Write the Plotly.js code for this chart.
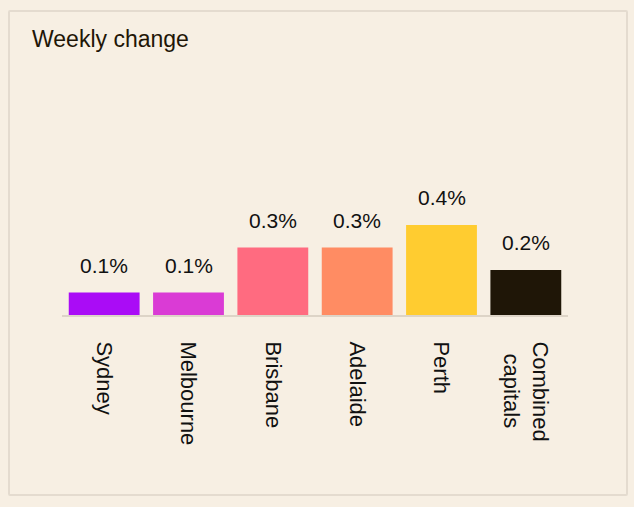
<!DOCTYPE html>
<html>
<head>
<meta charset="utf-8">
<script src="https://cdn.plot.ly/plotly-3.0.1.min.js"></script>
<style>
  html, body { margin: 0; padding: 0; background: #f7efe3; }
  #wrap { position: relative; width: 634px; height: 507px; }
  #chart { position: absolute; left: 0; top: 0; width: 634px; height: 507px; }
  #frame { position: absolute; left: 8px; top: 10px; width: 616px; height: 482px;
           border: 2px solid #e4dbcf; border-radius: 2px; pointer-events: none; }
</style>
</head>
<body>
<div id="wrap">
  <div id="chart"></div>
  <div id="frame"></div>
</div>
<script>
const categories = ["Sydney", "Melbourne", "Brisbane", "Adelaide", "Perth", "Combined<br>\u00a0\u00a0capitals"];
const values = [0.1, 0.1, 0.3, 0.3, 0.4, 0.2];
const labels = ["0.1%", "0.1%", "0.3%", "0.3%", "0.4%", "0.2%"];
const colors = ["#aa0cf6", "#da3bd5", "#ff6b80", "#ff8c63", "#ffcc30", "#1f1607"];

const trace = {
  type: "bar",
  x: categories,
  y: values,
  marker: { color: colors, line: { width: 0 } },
  hoverinfo: "none"
};

const annotations = categories.map((c, i) => ({
  x: c, y: values[i], xref: "x", yref: "y",
  text: labels[i], showarrow: false,
  yanchor: "bottom", yshift: 14,
  font: { family: "Liberation Sans, Arial, sans-serif", size: 21, color: "#111111" }
}));

const layout = {
  width: 634, height: 507,
  paper_bgcolor: "#f7efe3",
  plot_bgcolor: "#f7efe3",
  margin: { l: 62, r: 66, t: 90, b: 192 },
  bargap: 0.16,
  showlegend: false,
  title: {
    text: "Weekly change",
    x: 32 / 634, xref: "container", xanchor: "left",
    y: 1 - 39 / 507, yref: "container", yanchor: "middle",
    font: { family: "Liberation Sans, Arial, sans-serif", size: 23, color: "#1f1607" }
  },
  xaxis: {
    type: "category",
    tickangle: 90,
    ticks: "",
    ticklabelstandoff: 20,
    showline: true, linecolor: "#ddd4c7", linewidth: 2,
    showgrid: false, zeroline: false,
    tickfont: { family: "Liberation Sans, Arial, sans-serif", size: 22, color: "#111111" }
  },
  yaxis: {
    range: [0, 1.0],
    visible: false,
    showgrid: false, zeroline: false, fixedrange: true
  },
  annotations: annotations
};

Plotly.newPlot("chart", [trace], layout, { displayModeBar: false, staticPlot: true });
</script>
</body>
</html>
